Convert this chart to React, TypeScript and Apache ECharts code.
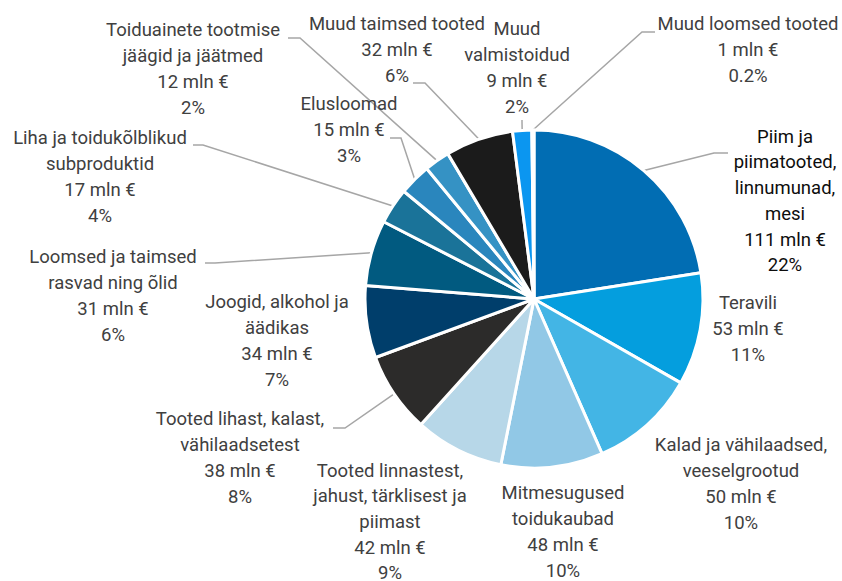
import React, { useEffect, useRef } from "react";
import * as echarts from "echarts";

const categories = [
  "Piim ja piimatooted, linnumunad, mesi",
  "Teravili",
  "Kalad ja vähilaadsed, veeselgrootud",
  "Mitmesugused toidukaubad",
  "Tooted linnastest, jahust, tärklisest ja piimast",
  "Tooted lihast, kalast, vähilaadsetest",
  "Joogid, alkohol ja äädikas",
  "Loomsed ja taimsed rasvad ning õlid",
  "Liha ja toidukõlblikud subproduktid",
  "Elusloomad",
  "Toiduainete tootmise jäägid ja jäätmed",
  "Muud taimsed tooted",
  "Muud valmistoidud",
  "Muud loomsed tooted",
];

const valuesMln = [111, 53, 50, 48, 42, 38, 34, 31, 17, 15, 12, 32, 9, 1];

const shareLabels = ["22%", "11%", "10%", "10%", "9%", "8%", "7%", "6%", "4%", "3%", "2%", "6%", "2%", "0.2%"];

// label wrapping as in the picture
const wrappedNames = [
  "Piim ja\npiimatooted,\nlinnumunad,\nmesi",
  "Teravili",
  "Kalad ja vähilaadsed,\nveeselgrootud",
  "Mitmesugused\ntoidukaubad",
  "Tooted linnastest,\njahust, tärklisest ja\npiimast",
  "Tooted lihast, kalast,\nvähilaadsetest",
  "Joogid, alkohol ja\näädikas",
  "Loomsed ja taimsed\nrasvad ning õlid",
  "Liha ja toidukõlblikud\nsubproduktid",
  "Elusloomad",
  "Toiduainete tootmise\njäägid ja jäätmed",
  "Muud taimsed tooted",
  "Muud\nvalmistoidud",
  "Muud loomsed tooted",
];

const colors = [
  "#016db3", "#049ede", "#43b5e5", "#91c8e6", "#b7d7e8", "#2c2b2a", "#003e6b",
  "#015a80", "#1a7399", "#2a86bd", "#3592c4", "#1b1b1b", "#0b96f0", "#d9d9d9",
];

// layout: label centres
const labelPos: [number, number][] = [
  [785, 201], [748, 329], [741, 484], [563, 532], [390, 522], [240, 458], [277, 341],
  [113, 296], [100, 177], [349, 130], [193, 69], [397, 50], [517, 68], [748, 50],
];

// layout: leader line elbow and end (null = no leader line)
const guides: ([number, number][] | null)[] = [
  [[714, 153], [728, 153]],
  null, null, null, null,
  [[345, 428], [333, 428]],
  null,
  [[215, 263], [205, 263]],
  [[203, 145], [193, 145]],
  [[401, 138], [390, 138]],
  [[300, 38], [288, 38]],
  [[425, 83], [413, 83]],
  [[522, 122], [522, 120]],
  [[642, 32], [655, 32]],
];

export default function App() {
  const ref = useRef<HTMLDivElement>(null);
  useEffect(() => {
    if (!ref.current) return;
    const chart = echarts.init(ref.current, null, { renderer: "svg" });
    const data = categories.map((name, i) => ({
      name,
      value: valuesMln[i],
      itemStyle: { color: colors[i] },
      label: i === 0 ? { color: "#0d0d0d" } : undefined,
      labelLine: { show: guides[i] !== null },
    }));
    chart.setOption({
      animation: false,
      series: [
        {
          type: "pie",
          center: [534, 299],
          radius: 169,
          startAngle: 90,
          clockwise: true,
          avoidLabelOverlap: false,
          itemStyle: { borderColor: "#ffffff", borderWidth: 3 },
          label: {
            show: true,
            position: "outside",
            color: "#404040",
            fontFamily: "Roboto, 'Noto Sans', sans-serif",
            fontSize: 18.5,
            lineHeight: 25.7,
            align: "center",
            formatter: (p: any) =>
              `${wrappedNames[p.dataIndex]}\n${valuesMln[p.dataIndex]} mln €\n${shareLabels[p.dataIndex]}`,
          },
          labelLine: {
            show: true,
            lineStyle: { color: "#a6a6a6", width: 1.5 },
          },
          labelLayout: (p: any) => {
            const i = p.dataIndex;
            const pos = labelPos[i];
            const res: any = { x: pos[0], y: pos[1], align: "center", verticalAlign: "middle" };
            const g = guides[i];
            if (g && p.labelLinePoints && p.labelLinePoints[0]) {
              res.labelLinePoints = [p.labelLinePoints[0], g[0], g[1]];
            }
            return res;
          },
          emphasis: { disabled: true },
          data,
        },
      ],
    });
    return () => chart.dispose();
  }, []);
  return (
    <div
      ref={ref}
      style={{ position: "absolute", left: 0, top: 0, width: 842, height: 581 }}
    />
  );
}
